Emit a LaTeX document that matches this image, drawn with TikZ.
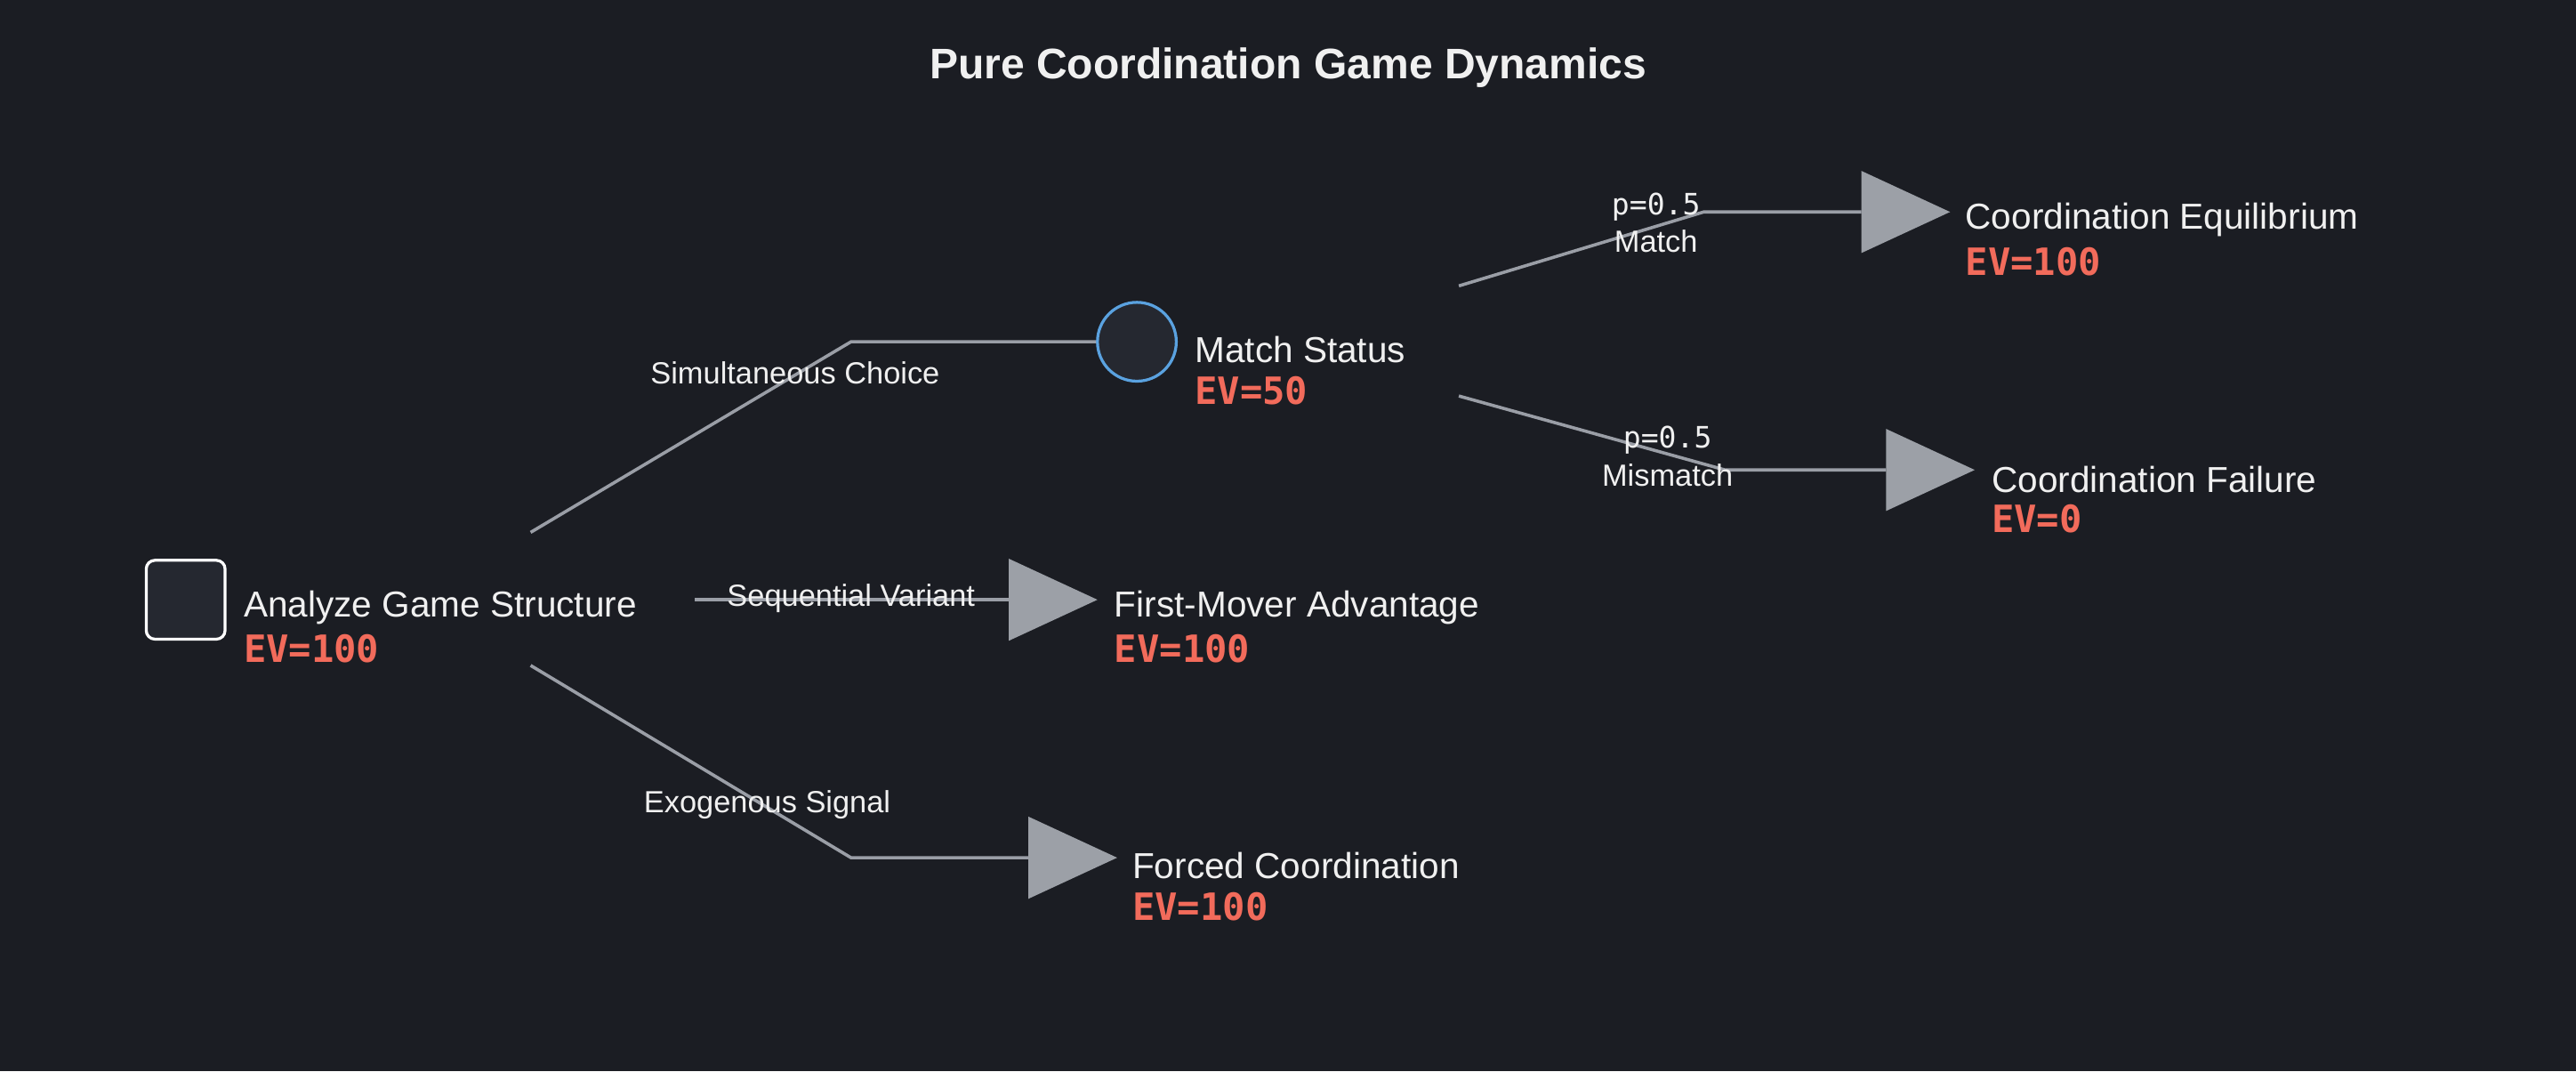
\documentclass[tikz,border=0pt]{standalone}
\usepackage{fontspec}
\setmainfont{Liberation Sans}
\newfontfamily\evfont{DejaVu Sans Mono}
\definecolor{bg}{HTML}{1B1D23}
\definecolor{edge}{HTML}{9A9EA6}
\definecolor{tri}{HTML}{9CA0A7}
\definecolor{evc}{HTML}{F26B5B}
\definecolor{nodefill}{HTML}{252830}
\definecolor{chance}{HTML}{5AA2E0}
\definecolor{txt}{HTML}{F0F0F0}
\begin{document}
\begin{tikzpicture}[x=0.02cm,y=-0.02cm,
  conn/.style={draw=edge,line width=1.1pt},
  nm/.style={anchor=west,inner sep=0pt,text=txt,font=\fontsize{12.5}{14}\selectfont},
  ev/.style={anchor=west,inner sep=0pt,text=evc,font=\evfont\bfseries\fontsize{13}{14}\selectfont},
  lab/.style={inner sep=0pt,text=txt,font=\fontsize{10.6}{12}\selectfont},
  plab/.style={inner sep=0pt,text=txt,font=\evfont\fontsize{10.2}{12}\selectfont},
  term/.style={fill=tri}]
\fill[bg] (0,0) rectangle (1568,652);
\useasboundingbox (0,0) rectangle (1568,652);
\node[text=txt,font=\bfseries\fontsize{14.8}{17}\selectfont] (title) at (784,41) {Pure Coordination Game Dynamics};
% decision node
\node[draw=white,fill=nodefill,rounded corners=3pt,line width=1pt,minimum size=0.96cm,inner sep=0pt] (root) at (113,365) {};
\node[nm] (rootl) at (148,370) {Analyze Game Structure};
\node[ev] (rootev) at (148,395) {EV=100};
% chance node
\node[draw=chance,fill=nodefill,circle,line width=1pt,minimum size=0.96cm,inner sep=0pt] (ch) at (692,208) {};
\node[nm] (chl) at (727,213) {Match Status};
\node[ev] (chev) at (727,238) {EV=50};
% terminals
\fill[term] (1133,104) -- (1187,129) -- (1133,154) -- cycle; \coordinate (t1) at (1133,129);
\fill[term] (1148,261) -- (1202,286) -- (1148,311) -- cycle; \coordinate (t2) at (1148,286);
\fill[term] (614,340) -- (668,365) -- (614,390) -- cycle; \coordinate (t3) at (614,365);
\fill[term] (626,497) -- (680,522) -- (626,547) -- cycle; \coordinate (t4) at (626,522);
\node[nm] (n1) at (1196,134) {Coordination Equilibrium}; \node[ev] (e1) at (1196,159) {EV=100};
\node[nm] (n2) at (1212,292) {Coordination Failure}; \node[ev] (e2) at (1212,316) {EV=0};
\node[nm] (n3) at (678,370) {First-Mover Advantage}; \node[ev] (e3) at (678,395) {EV=100};
\node[nm] (n4) at (689,527) {Forced Coordination}; \node[ev] (e4) at (689,552) {EV=100};
% connectors
\coordinate (s1) at (323,324); \coordinate (s2) at (423,365); \coordinate (s3) at (323,405);
\coordinate (c1) at (888,174); \coordinate (c2) at (888,241);
\draw[conn] (s1) -- (518,208) -- (ch.west);
\draw[conn] (s2) -- (t3);
\draw[conn] (s3) -- (518,522) -- (t4);
\draw[conn] (c1) -- (1037,129) -- (t1);
\draw[conn] (c2) -- (1050,286) -- (t2);
% labels
\node[lab] (l1) at (484,227) {Simultaneous Choice};
\node[lab] (l2) at (518,364) {Sequential Variant};
\node[lab] (l3) at (467,490) {Exogenous Signal};
\node[plab] (l4) at (1008,126) {p=0.5}; \node[lab] (l5) at (1008,147) {Match};
\node[plab] (l6) at (1015,268) {p=0.5}; \node[lab] (l7) at (1015,289) {Mismatch};
\end{tikzpicture}
\end{document}
